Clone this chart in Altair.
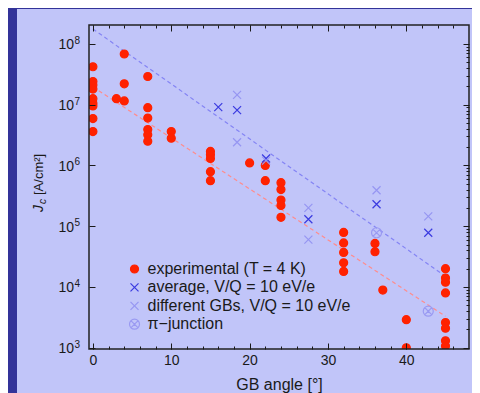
import altair as alt
import pandas as pd

# ---------------- data ----------------
series_names = ["experimental (T = 4 K)", "average, V/Q = 10 eV/e",
                "different GBs, V/Q = 10 eV/e", "π−junction"]

exp_angle = [0, 0, 0, 0, 0, 0, 0, 0, 0, 3, 4, 4, 4, 7, 7, 7, 7, 7, 7, 10, 10,
             15, 15, 15, 15, 15, 20, 22, 22, 24, 24, 24, 24, 24,
             32, 32, 32, 32, 32, 36, 36, 37, 40, 40,
             45, 45, 45, 45, 45, 45, 45, 45]
exp_jc = [4.2e7, 2.4e7, 2.1e7, 1.8e7, 1.25e7, 1.05e7, 9.5e6, 5.9e6, 3.6e6,
          1.25e7, 6.8e7, 2.2e7, 1.15e7,
          2.9e7, 8.9e6, 6.0e6, 3.9e6, 3.2e6, 2.5e6, 3.6e6, 2.8e6,
          1.7e6, 1.5e6, 1.3e6, 7.9e5, 5.6e5, 1.1e6, 1.0e6, 5.6e5,
          5.2e5, 4.0e5, 2.7e5, 2.2e5, 1.4e5,
          7.9e4, 5.3e4, 3.7e4, 2.5e4, 1.8e4, 5.2e4, 3.8e4, 8.9e3, 2.9e3, 1.0e3,
          2.0e4, 1.4e4, 1.2e4, 8.0e3, 2.6e3, 2.1e3, 1.3e3, 1.07e3]

avg_angle = [16, 18.4, 22.1, 27.5, 36.2, 42.8]
avg_jc = [9.1e6, 8.1e6, 1.3e6, 1.3e5, 2.3e5, 7.8e4]

gb_angle = [18.4, 18.4, 22.1, 27.5, 27.5, 36.2, 42.8]
gb_jc = [1.45e7, 2.4e6, 1.2e6, 2.0e5, 6.0e4, 3.9e5, 1.45e5]

pi_angle = [36.2, 42.8]
pi_jc = [7.8e4, 4.0e3]

fit_angle = [0, 45]
fit_blue = [1.75e8, 1.5e4]
fit_red = [1.95e7, 3.3e3]

x_major = [0, 10, 20, 30, 40]
x_minor = list(range(0, 48, 2))
y_major = [1e3, 1e4, 1e5, 1e6, 1e7, 1e8]
y_exponents = ["3", "4", "5", "6", "7", "8"]
y_minor = [k * 10 ** e for e in range(3, 8) for k in range(2, 10)]

# ---------------- styling ----------------
FONT = "Liberation Sans"
W, H = 380, 324
DARK = "#333399"
PANEL = "#c1c5f9"
INK = "#1a1a1a"

stroke_colors = ["#ff2200", "#3a3ae0", "#9696f2", "#9a9af2"]
fill_colors = ["#ff2200", "transparent", "transparent", "transparent"]
X_PATH = "M-1,-1L1,1M-1,1L1,-1"
PI_PATH = ("M-1.25,0A1.25,1.25,0,1,1,1.25,0A1.25,1.25,0,1,1,-1.25,0Z"
           "M-0.85,-0.85L0.85,0.85M-0.85,0.85L0.85,-0.85")
shapes = ["circle", X_PATH, X_PATH, PI_PATH]

pts = pd.DataFrame({
    "angle": exp_angle + avg_angle + gb_angle + pi_angle,
    "jc": exp_jc + avg_jc + gb_jc + pi_jc,
    "series": [series_names[0]] * len(exp_angle) + [series_names[1]] * len(avg_angle)
    + [series_names[2]] * len(gb_angle) + [series_names[3]] * len(pi_angle),
})
blue_df = pd.DataFrame({"angle": fit_angle, "jc": fit_blue})
red_df = pd.DataFrame({"angle": fit_angle, "jc": fit_red})
ylab_df = pd.DataFrame({"jc": y_major, "exp": y_exponents})

xs = alt.Scale(domain=[-0.5, 48], nice=False, zero=False)
ys = alt.Scale(type="log", domain=[955, 2.04e8], nice=False)


def ax(orient, values, size, labels=False, **kw):
    return alt.Axis(orient=orient, values=values, tickSize=size, offset=-size,
                    domain=False, grid=False, labels=labels, tickColor=INK,
                    tickWidth=1, zindex=1, **kw)


leg = alt.Legend(title=None, orient="none", legendX=37.5, legendY=236,
                 padding=0, symbolSize=64, symbolStrokeWidth=1.2,
                 labelFont=FONT, labelFontSize=16, labelColor=INK, labelLimit=400,
                 labelOffset=5, rowPadding=2.4, symbolOpacity=1)

panel = alt.Chart(alt.Data(values=[{}])).mark_rect(color=PANEL).encode(
    x=alt.value(-72), x2=alt.value(383), y=alt.value(-16), y2=alt.value(368))

blue_line = alt.Chart(blue_df).mark_line(
    color="#8484f4", strokeDash=[4, 3], strokeWidth=1.2).encode(
    x=alt.X("angle:Q", scale=xs, axis=ax("top", x_major, 6, title=None)),
    y=alt.Y("jc:Q", scale=ys, axis=ax("right", y_major, 6, title=None)))

red_line = alt.Chart(red_df).mark_line(
    color="#ff8c8c", strokeDash=[4, 3], strokeWidth=1.2).encode(
    x=alt.X("angle:Q", scale=xs, axis=ax("top", x_minor, 3, title=None)),
    y=alt.Y("jc:Q", scale=ys, axis=ax("right", y_minor, 3, title=None)))

points = alt.Chart(pts).mark_point(opacity=1, size=64, strokeWidth=1.2, clip=True).encode(
    x=alt.X("angle:Q", scale=xs,
            axis=ax("bottom", x_major, 6, labels=True, title="GB angle [°]",
                    format="d", labelFont=FONT, labelFontSize=14, labelColor=INK,
                    labelPadding=4, titleFont=FONT, titleFontSize=16,
                    titleFontWeight="normal", titleColor=INK, titlePadding=9)),
    y=alt.Y("jc:Q", scale=ys, axis=ax("left", y_major, 6, title=None)),
    stroke=alt.Stroke("series:N", scale=alt.Scale(domain=series_names, range=stroke_colors), legend=leg),
    fill=alt.Fill("series:N", scale=alt.Scale(domain=series_names, range=fill_colors), legend=leg),
    shape=alt.Shape("series:N", scale=alt.Scale(domain=series_names, range=shapes), legend=leg),
)

minor_axis = alt.Chart(red_df).mark_point(opacity=0).encode(
    x=alt.X("angle:Q", scale=xs, axis=ax("bottom", x_minor, 3, title=None)),
    y=alt.Y("jc:Q", scale=ys, axis=None))

# y tick labels "10" + raised exponent, placed through the y scale
ylab_base = alt.Chart(ylab_df).mark_text(
    text="10", font=FONT, fontSize=14, align="right", baseline="middle",
    color=INK, dy=1.5).encode(
    x=alt.value(-15), y=alt.Y("jc:Q", scale=ys, axis=None))
ylab_exp = alt.Chart(ylab_df).mark_text(
    font=FONT, fontSize=10, align="left", baseline="middle",
    color=INK, dy=-3).encode(
    x=alt.value(-14.5), y=alt.Y("jc:Q", scale=ys, axis=None), text="exp:N")

frame = alt.Chart(alt.Data(values=[{}])).mark_rect(
    fillOpacity=0, stroke="#222222", strokeWidth=1.5).encode(
    x=alt.value(0), x2=alt.value(W), y=alt.value(0), y2=alt.value(H))


def txt(s, x, y, size, italic=False):
    kw = {"fontStyle": "italic"} if italic else {}
    return alt.Chart(alt.Data(values=[{}])).mark_text(
        text=s, font=FONT, fontSize=size, angle=270, align="left",
        baseline="alphabetic", color=INK, **kw).encode(
        x=alt.value(x), y=alt.value(y))


title_j = txt("J", -46, 187, 14, italic=True)
title_c = txt("c", -43, 179, 10, italic=True)
title_u = txt("[A/cm²]", -46, 170, 13)

chart = alt.layer(
    panel, blue_line, red_line, points, minor_axis, ylab_base, ylab_exp,
    frame, title_j, title_c, title_u
).resolve_scale(x="shared", y="shared").resolve_axis(
    x="independent", y="independent"
).properties(
    width=W, height=H, background=DARK,
    padding={"left": 9, "top": 1, "right": 0, "bottom": 0}
).configure_view(stroke=None)

chart.save("out.html", embed_options={"renderer": "svg", "actions": False})
